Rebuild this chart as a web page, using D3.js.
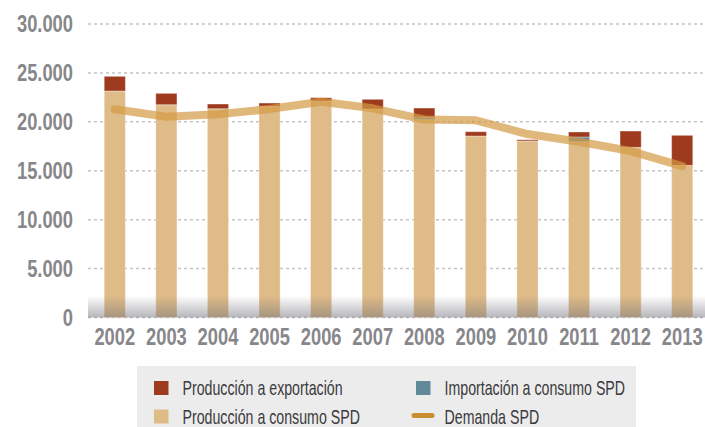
<!DOCTYPE html>
<html>
<head>
  <meta charset="utf-8">
  <script src="https://d3js.org/d3.v7.min.js"></script>
  <style>
    body { margin: 0; background: #fff; }
    text { font-family: "Liberation Sans", Arial, sans-serif; }
  </style>
</head>
<body>
<script>
  "use strict";

  // data (GWh)
  var years = ["2002","2003","2004","2005","2006","2007","2008","2009","2010","2011","2012","2013"];
  var prodConsumo = [23150, 21750, 21340, 21580, 22125, 21310, 20220, 18550, 18040, 17970, 17390, 15550];
  var importConsumo = [0, 0, 0, 0, 0, 0, 270, 0, 0, 480, 0, 0];
  var prodExport = [1500, 1160, 480, 340, 340, 990, 920, 440, 130, 510, 1670, 3070];
  var demanda = [21280, 20520, 20770, 21310, 22055, 21380, 20240, 20150, 18750, 17970, 17015, 15480];
  var yTicks = [0, 5000, 10000, 15000, 20000, 25000, 30000];

  var series = [
    { name: "Producción a consumo SPD", values: prodConsumo, color: "#dfbb88" },
    { name: "Importación a consumo SPD", values: importConsumo, color: "#62899a" },
    { name: "Producción a exportación", values: prodExport, color: "#9e3a1d" }
  ];

  var width = 705, height = 427;
  var svg = d3.select("body").append("svg")
      .attr("width", width)
      .attr("height", height);

  // the original uses a narrow face; squeeze a regular one horizontally
  function narrowText(sel, px, py, sx) {
    sel.attr("transform", function (d, i) {
      return "translate(" + px(d, i) + "," + py(d, i) + ") scale(" + sx + ",1)";
    });
    return sel;
  }

  var x = d3.scaleBand().domain(years).range([89, 708])
      .paddingInner(0.59).paddingOuter(0.295);
  var y = d3.scaleLinear().domain([0, 30000]).range([317.5, 24]);

  // gridlines
  svg.append("g").selectAll("line")
    .data(yTicks)
    .enter().append("line")
      .attr("x1", 88).attr("x2", width)
      .attr("y1", function (d) { return y(d); })
      .attr("y2", function (d) { return y(d); })
      .attr("stroke", "#c4c4c4")
      .attr("stroke-width", 1.5)
      .attr("stroke-dasharray", "3,3");

  // y labels
  var fmt = function (d) { return d3.format(",")(d).replace(/,/g, "."); };
  var yl = svg.append("g").selectAll("text")
    .data(yTicks)
    .enter().append("text")
      .attr("dy", "0.36em")
      .attr("text-anchor", "end")
      .style("font-size", "23.5px")
      .style("font-weight", "bold")
      .style("fill", "#87878b")
      .text(fmt);
  narrowText(yl, function () { return 73; }, function (d) { return y(d); }, 0.78);

  // stacked bars
  var rows = years.map(function (yr, i) {
    var r = { year: yr };
    series.forEach(function (s) { r[s.name] = s.values[i]; });
    return r;
  });
  var stack = d3.stack().keys(series.map(function (s) { return s.name; }))(rows);

  svg.append("g").selectAll("g")
    .data(stack)
    .enter().append("g")
      .attr("fill", function (d, i) { return series[i].color; })
    .selectAll("rect")
    .data(function (d) { return d; })
    .enter().append("rect")
      .filter(function (d) { return d[1] - d[0] > 0; })
      .attr("x", function (d) { return x(d.data.year); })
      .attr("width", x.bandwidth())
      .attr("y", function (d) { return y(d[1]); })
      .attr("height", function (d) { return y(d[0]) - y(d[1]); })
      .attr("stroke", "rgba(255,255,255,0.35)")
      .attr("stroke-width", 1);

  // demand line
  var line = d3.line()
      .x(function (d, i) { return x(years[i]) + x.bandwidth() / 2; })
      .y(function (d) { return y(d); });
  svg.append("path")
      .datum(demanda)
      .attr("d", line)
      .attr("fill", "none")
      .attr("stroke", "#d49a45")
      .attr("stroke-opacity", 0.7)
      .attr("stroke-width", 8)
      .attr("stroke-linecap", "round")
      .attr("stroke-linejoin", "round");

  // shadow at the base
  var defs = svg.append("defs");
  var grad = defs.append("linearGradient")
      .attr("id", "base").attr("x1", 0).attr("x2", 0).attr("y1", 0).attr("y2", 1);
  grad.append("stop").attr("offset", "0%").attr("stop-color", "#6e6e78").attr("stop-opacity", 0);
  grad.append("stop").attr("offset", "100%").attr("stop-color", "#6e6e78").attr("stop-opacity", 0.5);
  svg.append("rect")
      .attr("x", 88).attr("width", width - 88)
      .attr("y", y(0) - 22).attr("height", 22)
      .attr("fill", "url(#base)");

  // x labels
  var xl = svg.append("g").selectAll("text")
    .data(years)
    .enter().append("text")
      .attr("text-anchor", "middle")
      .style("font-size", "23.5px")
      .style("font-weight", "bold")
      .style("fill", "#87878b")
      .text(function (d) { return d; });
  narrowText(xl, function (d) { return x(d) + x.bandwidth() / 2; }, function () { return 345; }, 0.78);

  // legend
  var legend = svg.append("g");
  legend.append("rect")
      .attr("x", 137).attr("y", 366)
      .attr("width", 499).attr("height", 61)
      .attr("fill", "#ececec");

  var items = [
    { name: "Producción a exportación", color: "#9e3a1d", lx: 154, ly: 381, type: "box" },
    { name: "Importación a consumo SPD", color: "#62899a", lx: 416, ly: 381, type: "box" },
    { name: "Producción a consumo SPD", color: "#dfbb88", lx: 154, ly: 409.5, type: "box" },
    { name: "Demanda SPD", color: "#c98f2e", lx: 416, ly: 409.5, type: "line" }
  ];
  items.forEach(function (it) {
    if (it.type === "box") {
      legend.append("rect")
          .attr("x", it.lx).attr("y", it.ly)
          .attr("width", 14.5).attr("height", 14)
          .attr("fill", it.color);
    } else {
      legend.append("line")
          .attr("x1", it.lx - 2).attr("x2", it.lx + 16)
          .attr("y1", it.ly + 6).attr("y2", it.ly + 6)
          .attr("stroke", it.color)
          .attr("stroke-width", 5)
          .attr("stroke-linecap", "round");
    }
    legend.append("text")
        .attr("transform", "translate(" + (it.lx + 28.5) + "," + (it.ly + 14) + ") scale(0.71,1)")
        .style("font-size", "20px")
        .style("fill", "#3a3a3c")
        .text(it.name);
  });
</script>
</body>
</html>
